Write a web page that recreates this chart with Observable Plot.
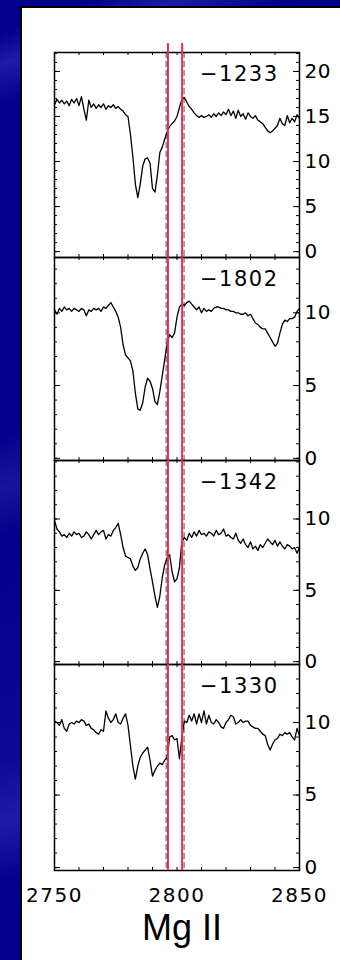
<!DOCTYPE html>
<html><head><meta charset="utf-8">
<script src="https://cdn.jsdelivr.net/npm/d3@7"></script>
<script src="https://cdn.jsdelivr.net/npm/@observablehq/plot@0.6"></script>
<style>
html,body{margin:0;padding:0;width:340px;height:960px;overflow:hidden;}
body{background:#00008c;background-image:linear-gradient(160deg,#00008c 0%,#00008c 3%,#1c1ca8 6%,#00008c 10%,#00008c 40%,#16169c 45%,#00008c 50%,#0a0a95 70%,#1c1ca8 76%,#00008c 82%,#00008c 100%);}
#sheet{position:absolute;left:20px;top:6px;right:0;bottom:0;background:#fff;border-left:2px solid #000;border-top:2px solid #000;}
#chart{position:absolute;left:0;top:0;width:340px;height:960px;}
#chart svg{position:absolute;left:0;overflow:visible;background:transparent;}
#chart g[aria-label="x-axis tick label"] text{letter-spacing:1.5px;}
#chart g[aria-label="y-axis tick label"] text{letter-spacing:0.5px;}
</style></head>
<body><div id="sheet"></div><div id="chart"></div>
<script>
// Wavelength grid (Å)
const wavelengths = [2750,2751,2752,2753,2754,2755,2756,2757,2758,2759,2760,2761,2762,2763,2764,2765,2766,2767,2768,2769,
2770,2771,2772,2773,2774,2775,2776,2777,2778,2779,2780,2781,2782,2783,2784,2785,2786,2787,2788,2789,
2790,2791,2792,2793,2794,2795,2796,2797,2798,2799,2800,2801,2802,2803,2804,2805,2806,2807,2808,2809,
2810,2811,2812,2813,2814,2815,2816,2817,2818,2819,2820,2821,2822,2823,2824,2825,2826,2827,2828,2829,
2830,2831,2832,2833,2834,2835,2836,2837,2838,2839,2840,2841,2842,2843,2844,2845,2846,2847,2848,2849,2850];

const flux1233 = [16.3,16.9,16.5,16.8,16.4,16.7,16.2,16.9,16.5,17.0,16.2,17.2,15.8,14.6,16.8,16.0,16.4,15.9,16.3,16.0,
16.4,15.8,16.2,16.0,16.3,15.9,16.1,15.8,15.6,15.2,15.0,13.0,10.5,7.5,6.0,7.5,9.5,10.3,10.4,9.8,
7.0,6.6,8.5,11.0,11.6,12.5,13.3,13.9,14.2,14.5,15.0,16.0,16.9,17.1,16.6,16.1,15.8,15.4,15.1,14.9,
15.1,14.9,15.0,15.2,14.9,15.3,15.0,15.4,15.1,15.5,15.2,15.8,15.1,15.6,14.8,15.7,15.0,15.3,14.7,15.4,
15.0,14.8,15.1,14.6,14.4,14.2,13.8,13.4,13.2,13.4,13.7,14.0,14.8,14.2,14.0,15.1,14.3,14.8,14.4,15.2,14.8];

const flux1802 = [10.2,9.9,10.3,10.1,10.4,10.2,10.3,10.1,10.3,10.2,10.1,10.3,10.2,9.8,10.2,10.1,10.3,10.2,10.3,10.1,
10.4,10.3,10.5,10.7,10.4,10.1,9.7,9.0,7.8,7.1,6.9,6.7,6.0,4.5,3.4,3.3,3.8,4.9,5.5,5.3,
4.8,3.9,3.7,4.6,5.7,6.8,7.9,8.5,8.3,8.6,9.7,10.4,10.6,10.5,10.7,10.8,10.6,10.4,10.2,10.4,
10.0,10.3,10.1,10.2,10.1,10.3,10.4,10.4,10.3,10.3,10.2,10.2,10.1,10.1,10.0,10.0,9.9,9.9,10.0,9.8,
9.9,9.6,9.3,9.2,9.0,8.9,8.9,8.6,8.3,8.0,7.7,7.9,8.6,9.2,9.5,9.4,9.6,9.6,9.7,10.1,10.3];

const flux1342 = [9.9,9.3,9.1,8.8,8.9,8.7,9.0,8.8,9.1,8.9,9.0,8.7,8.8,9.1,8.9,8.6,8.9,9.2,8.9,9.1,
9.2,8.6,8.9,8.8,9.2,9.4,9.7,8.9,8.0,7.4,7.3,7.2,6.7,6.4,6.6,7.2,7.6,7.9,7.5,6.5,
5.6,4.6,3.8,4.6,5.9,6.8,7.3,7.5,6.3,5.6,5.8,6.6,8.4,8.7,8.5,9.0,8.7,9.1,8.8,9.2,
8.9,9.0,8.8,9.1,9.0,8.8,9.2,8.9,9.0,9.3,8.8,8.9,8.7,8.6,9.0,8.5,8.3,8.6,8.2,8.0,
8.4,7.9,8.1,7.8,8.2,8.0,8.3,8.6,8.4,8.2,8.5,8.1,8.4,8.1,7.9,8.2,8.1,7.9,8.0,7.6,8.0];

const flux1330 = [10.1,10.0,9.8,10.2,9.6,9.4,9.9,10.0,9.9,10.1,10.0,10.2,10.1,9.8,9.9,9.6,9.5,9.3,9.2,9.5,
9.4,10.8,10.3,10.0,10.2,10.6,10.0,9.9,10.3,10.6,9.8,8.4,7.0,6.1,7.0,7.6,7.9,8.1,8.3,7.4,
6.3,6.7,7.0,7.2,7.1,7.4,7.6,9.0,9.1,8.8,8.9,7.5,9.0,10.1,10.0,10.5,10.1,10.6,9.9,10.6,
10.0,10.8,9.9,10.5,10.0,9.9,10.2,10.0,9.7,9.6,10.0,10.2,10.5,10.4,9.9,10.0,10.2,10.0,10.1,10.1,
9.8,9.7,9.6,9.6,9.4,9.2,9.1,8.5,8.1,8.5,8.8,8.9,9.2,9.1,9.3,9.2,9.3,9.0,8.8,9.6,9.1];

const panelLabels = ["\u22121233", "\u22121802", "\u22121342", "\u22121330"];
const fluxes = [flux1233, flux1802, flux1342, flux1330];
const yTickLabels = [[0,5,10,15,20],[0,5,10],[0,5,10],[0,5,10]];
const xTickLabels = [2750, 2800, 2850];
const xMinorTicks = [2750,2760,2770,2780,2790,2800,2810,2820,2830,2840,2850];
const mgIILines = [2796.3, 2802.1];
const dashedLines = [2795.6, 2802.9];
const axisTitle = "Mg II";

// layout
const panelTops = [52, 257, 460, 664];
const innerHeights = [205, 203, 204, 206];
const yDomains = [[-0.65, 22.1], [-0.15, 13.8], [-0.2, 14.1], [-0.2, 14.0]];
const ML = 54, MR = 41, W = 340;
const ux = 100 / (W - ML - MR);

function panel(i) {
  const [y0, y1] = yDomains[i];
  const ih = innerHeights[i];
  const mt = 12, mb = i === 3 ? 92 : 12;
  const uy = (y1 - y0) / ih;
  const data = wavelengths.map((w, j) => ({w, f: fluxes[i][j]}));
  const minorY = d3.range(Math.ceil(y0), Math.floor(y1) + 1);
  const majorY = yTickLabels[i];
  const tk = "#000";
  const marks = [
    Plot.ruleX(dashedLines, {x: d => d, stroke: "#8c8c8c", strokeWidth: 1.5, strokeDasharray: "6,3"}),
    Plot.line(data, {x: "w", y: "f", stroke: "#000", strokeWidth: 1.3}),
    Plot.ruleY(minorY, {y: d => d, x1: 2750, x2: 2750 + 3 * ux, stroke: tk}),
    Plot.ruleY(minorY, {y: d => d, x1: 2850 - 3 * ux, x2: 2850, stroke: tk}),
    Plot.ruleY(majorY, {y: d => d, x1: 2750, x2: 2750 + 6 * ux, stroke: tk}),
    Plot.ruleY(majorY, {y: d => d, x1: 2850 - 6 * ux, x2: 2850, stroke: tk}),
    Plot.ruleX(xMinorTicks, {x: d => d, y1: y0, y2: y0 + 3 * uy, stroke: tk}),
    Plot.ruleX(xMinorTicks, {x: d => d, y1: y1 - 3 * uy, y2: y1, stroke: tk}),
    Plot.frame({stroke: "#000", strokeWidth: 1.5}),
    Plot.axisY(majorY, {anchor: "right", label: null, tickSize: 0, tickPadding: 5, fontSize: 20, tickFormat: d => String(d)}),
    Plot.text([panelLabels[i]], {frameAnchor: "top-right", dx: -21, dy: 22, textAnchor: "end", lineAnchor: "middle", fontSize: 21}),
    Plot.ruleX(mgIILines, {x: d => d, stroke: "#ec2a55", strokeWidth: 2, insetTop: i === 0 ? -9 : 0})
  ];
  if (i === 3) {
    marks.push(Plot.axisX(xTickLabels, {anchor: "bottom", label: null, tickSize: 0, tickPadding: 17, fontSize: 20, tickFormat: d => String(d)}));
    marks.push(Plot.text([axisTitle], {frameAnchor: "bottom", dy: 58, dx: 5, fontSize: 36, fontFamily: "Liberation Sans, Arial, sans-serif", lineAnchor: "middle"}));
  }
  const svg = Plot.plot({
    width: W, height: mt + ih + mb,
    marginLeft: ML, marginRight: MR, marginTop: mt, marginBottom: mb,
    x: {domain: [2750, 2850], axis: null},
    y: {domain: [y0, y1], axis: null},
    style: {background: "transparent", overflow: "visible", fontFamily: "DejaVu Sans, sans-serif", color: "#000"},
    marks
  });
  svg.style.top = (panelTops[i] - mt) + "px";
  svg.querySelectorAll("text").forEach(t => {
    if (t.textContent.startsWith("\u2212")) t.style.letterSpacing = "1.5px";
  });
  return svg;
}

const chart = document.getElementById("chart");
for (let i = 0; i < 4; i++) chart.appendChild(panel(i));
</script>
</body></html>
